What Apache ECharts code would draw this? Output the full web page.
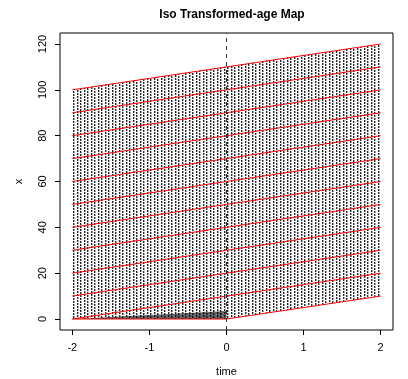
<!DOCTYPE html>
<html>
<head>
<meta charset="utf-8">
<script src="https://cdn.jsdelivr.net/npm/echarts@6/dist/echarts.min.js"></script>
<style>
  html, body { margin: 0; padding: 0; background: #fff; }
  #chart { width: 408px; height: 379px; }
</style>
</head>
<body>
<div id="chart"></div>
<script>
// axis ticks
const timeTicks = [-2, -1, 0, 1, 2]
const xTicks = [0, 20, 40, 60, 80, 100, 120]

// red iso lines, value at time -2, 0 and 2
const redAtMinus2 = [0, 0, 10, 20, 30, 40, 50, 60, 70, 80, 90, 100]
const redAt0 = [0, 10, 20, 30, 40, 50, 60, 70, 80, 90, 100, 110]
const redAt2 = [10, 20, 30, 40, 50, 60, 70, 80, 90, 100, 110, 120]

// outline of the dotted (black) region
const regionT = [-2, 0, 2, 2, -2]
const regionX = [0, 0, 10, 120, 100]

// dark fan near the bottom left
const fanT = [-2, 0, 0]
const fanX = [0, 3.5, 0]

// dotted texture, vertical dashes
function makePattern() {
  const c = document.createElement('canvas')
  c.width = 7
  c.height = 3
  const ctx = c.getContext('2d')
  ctx.fillStyle = 'rgba(0,0,0,0.85)'
  ctx.fillRect(0, 0, 1, 2)
  ctx.fillRect(3, 1, 1, 2)
  ctx.fillStyle = 'rgba(0,0,0,0.35)'
  ctx.fillRect(1, 0, 1, 2)
  ctx.fillRect(4, 1, 1, 2)
  return c
}

function polygonSeries(ts, xs, fill) {
  return {
    type: 'custom',
    silent: true,
    z: 1,
    data: ts.map((t, i) => [t, xs[i]]),
    renderItem(params, api) {
      if (params.dataIndex !== 0) return null
      const pts = ts.map((t, i) => api.coord([t, xs[i]]))
      return {
        type: 'polygon',
        shape: { points: pts },
        style: { fill: fill, stroke: null }
      }
    }
  }
}

const chart = echarts.init(document.getElementById('chart'), null, { renderer: 'canvas' })

const series = [
  polygonSeries(regionT, regionX, { image: makePattern(), repeat: 'repeat' }),
  polygonSeries(fanT, fanX, 'rgba(0,0,0,0.6)')
]
redAt0.forEach((v, i) => {
  series.push({
    type: 'line',
    z: 3,
    symbol: 'none',
    silent: true,
    lineStyle: { color: '#ff0000', width: 1 },
    data: [[-2, redAtMinus2[i]], [0, v], [2, redAt2[i]]]
  })
})
series.push({
  type: 'line',
  z: 4,
  symbol: 'none',
  silent: true,
  lineStyle: { color: '#333', width: 1, type: [4, 4] },
  data: [[0, -4.8], [0, 124.8]]
})

chart.setOption({
  animation: false,
  backgroundColor: '#fff',
  title: {
    text: 'Iso Transformed-age Map',
    left: 227,
    top: 4,
    textAlign: 'center',
    textStyle: {
      fontFamily: 'Liberation Sans',
      fontWeight: 'bold',
      fontSize: 12,
      color: '#000'
    }
  },
  grid: {
    left: 60,
    right: 15,
    top: 33,
    bottom: 49,
    outerBoundsMode: 'none',
    containLabel: false,
    show: true,
    borderColor: '#000',
    borderWidth: 1,
    backgroundColor: 'transparent'
  },
  xAxis: {
    type: 'value',
    min: -2.16,
    max: 2.16,
    name: 'time',
    nameLocation: 'middle',
    nameGap: 36,
    nameTextStyle: { fontFamily: 'Liberation Sans', fontSize: 11, color: '#000' },
    axisLine: { show: false, onZero: false },
    axisTick: { show: true, length: 5, customValues: timeTicks, lineStyle: { color: '#000' } },
    axisLabel: {
      customValues: timeTicks,
      margin: 12,
      fontFamily: 'Liberation Sans',
      fontSize: 11,
      color: '#000'
    },
    splitLine: { show: false }
  },
  yAxis: {
    type: 'value',
    min: -4.8,
    max: 124.8,
    name: 'x',
    nameLocation: 'middle',
    nameGap: 36,
    nameRotate: 90,
    nameTextStyle: { fontFamily: 'Liberation Sans', fontSize: 11, color: '#000' },
    axisLine: { show: false, onZero: false },
    axisTick: { show: true, length: 5, customValues: xTicks, lineStyle: { color: '#000' } },
    axisLabel: {
      customValues: xTicks,
      rotate: 90,
      margin: 12,
      fontFamily: 'Liberation Sans',
      fontSize: 11,
      color: '#000'
    },
    splitLine: { show: false }
  },
  series: series
})
</script>
</body>
</html>
